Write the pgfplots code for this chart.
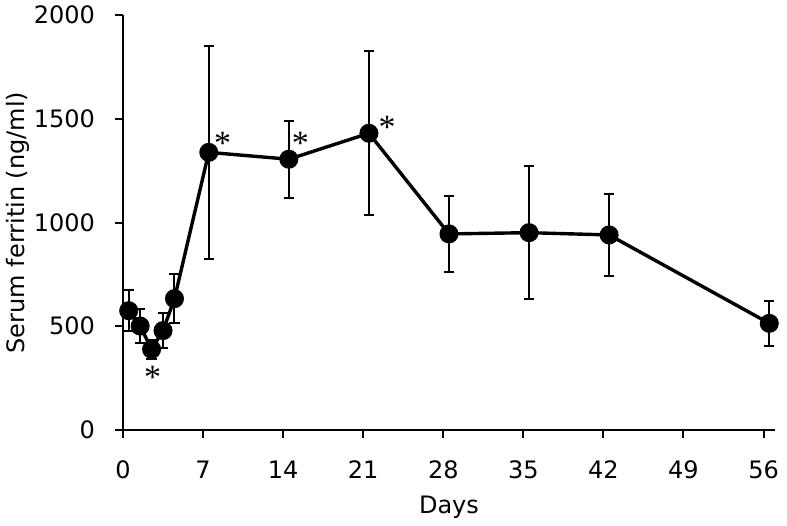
\documentclass[border=0pt]{standalone}
\usepackage{pgfplots}
\pgfplotsset{compat=1.18}
\usepackage{fontspec}
\setmainfont{DejaVu Sans}
\newfontfamily\starfont{Liberation Serif}
\begin{document}
\begin{tikzpicture}
\path[use as bounding box] (-61.5pt,-47.5pt) rectangle (332pt,215pt);
\begin{axis}[
  at={(0,0)}, anchor=south west,
  scale only axis, width=326pt, height=207.5pt,
  xmin=0, xmax=57, ymin=0, ymax=2000,
  axis x line*=bottom, axis y line*=left,
  axis line style={line width=1pt, -},
  xtick={0,7,14,21,28,35,42,49,56},
  ytick={0,500,1000,1500,2000},
  tick align=outside, major tick length=4pt,
  tick style={line width=1pt, black},
  /pgf/number format/assume math mode=true,
  /pgf/number format/1000 sep={},
  ticklabel style={font=\fontsize{12}{14}\selectfont},
  xticklabel style={yshift=-8pt},
  yticklabel style={xshift=-6.5pt},
  xlabel={Days}, ylabel={Serum ferritin (ng/ml)},
  label style={font=\fontsize{12}{14}\selectfont},
  xlabel style={yshift=-1.5pt},
  ylabel style={yshift=-4.5pt},
  clip=false,
]
\addplot[black, line width=1.7pt, mark=*, mark size=3.9pt,
  error bars/.cd, y dir=both, y explicit,
  error bar style={line width=1pt, black},
  error mark options={rotate=90, mark size=2.6pt, line width=1pt, black}]
  table[x=x, y=y, y error=e] {
x y e
0.5 575 99
1.5 501 84
2.5 389 47
3.5 479 86
4.5 633 118
7.5 1338 515
14.5 1305 185
21.5 1430 395
28.5 945 185
35.5 951 321
42.5 940 196
56.5 514 109
};
\node[font=\starfont\fontsize{17}{17}\selectfont] at (axis cs:2.6,255) {*};
\node[font=\starfont\fontsize{17}{17}\selectfont] at (axis cs:8.7,1380) {*};
\node[font=\starfont\fontsize{17}{17}\selectfont] at (axis cs:15.5,1380) {*};
\node[font=\starfont\fontsize{17}{17}\selectfont] at (axis cs:23.1,1460) {*};
\end{axis}
\end{tikzpicture}
\end{document}
